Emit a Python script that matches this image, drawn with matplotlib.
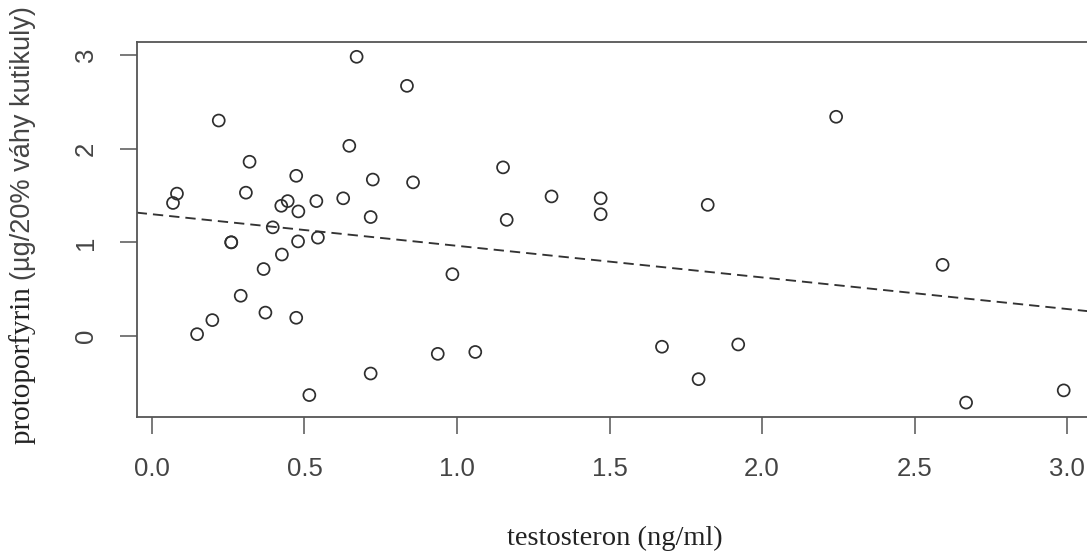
import numpy as np
import matplotlib
matplotlib.use("Agg")
import matplotlib.pyplot as plt

# testosterone (ng/ml) vs protoporphyrin per sample
testosteron = [0.069, 0.082, 0.148, 0.198, 0.219, 0.26, 0.26, 0.291, 0.308, 0.32,
               0.366, 0.372, 0.396, 0.424, 0.426, 0.445, 0.473, 0.473, 0.479, 0.48,
               0.516, 0.539, 0.544, 0.627, 0.647, 0.671, 0.717, 0.717, 0.724, 0.836,
               0.856, 0.937, 0.985, 1.06, 1.151, 1.163, 1.31, 1.471, 1.471, 1.672,
               1.792, 1.822, 1.922, 2.243, 2.592, 2.669, 2.989]
protoporfyrin = [1.42, 1.52, 0.02, 0.17, 2.30, 1.00, 1.00, 0.43, 1.53, 1.86,
                 0.715, 0.25, 1.16, 1.39, 0.87, 1.44, 1.71, 0.195, 1.01, 1.33,
                 -0.63, 1.44, 1.05, 1.47, 2.03, 2.98, 1.27, -0.40, 1.67, 2.67,
                 1.64, -0.19, 0.66, -0.17, 1.80, 1.24, 1.49, 1.47, 1.30, -0.114,
                 -0.46, 1.40, -0.09, 2.34, 0.76, -0.71, -0.58]

# regression line end points
fit_x = [-0.05, 3.12]
fit_y = [1.317, 0.248]

x_ticks = [0.0, 0.5, 1.0, 1.5, 2.0, 2.5, 3.0]
x_tick_labels = ["0.0", "0.5", "1.0", "1.5", "2.0", "2.5", "3.0"]
y_ticks = [0, 1, 2, 3]
y_tick_labels = ["0", "1", "2", "3"]

W, H = 1087, 551
fig = plt.figure(figsize=(W / 100, H / 100), dpi=100)
fig.patch.set_facecolor("white")

# plot box runs past the right edge of the figure
ax = fig.add_axes([137 / W, 1 - 417 / H, (1100 - 137) / W, (417 - 42) / H])
ax.set_xlim(-0.049, 3.108)
ax.set_ylim(-0.864, 3.138)

ax.plot(fit_x, fit_y, color="#333333", lw=1.35, dashes=(5.5, 3.2), zorder=2)
ax.scatter(testosteron, protoporfyrin, s=74, facecolors="none",
           edgecolors="#2e2e2e", linewidths=1.25, zorder=3)

for s in ax.spines.values():
    s.set_color("#555555")
    s.set_linewidth(1.3)

ax.set_xticks(x_ticks)
ax.set_xticklabels(x_tick_labels, fontfamily="Liberation Sans", fontsize=18.5,
                   color="#444444")
ax.set_yticks(y_ticks)
ax.set_yticklabels(y_tick_labels, fontfamily="Liberation Sans", fontsize=18.5,
                   color="#444444", rotation=90, va="center")
ax.tick_params(axis="both", direction="out", length=12, width=1.1,
               color="#555555")
ax.tick_params(axis="x", pad=17)
ax.tick_params(axis="y", pad=16)

fig.text(615 / W, 1 - 538 / H, "testosteron (ng/ml)", family="Liberation Serif",
         fontsize=20.5, color="#222222", ha="center", va="center")

# y label: serif word followed by a sans-serif unit part
t1 = fig.text(23 / W, 1 - 444 / H, "protoporfyrin ", family="Liberation Serif",
              fontsize=21, color="#222222", rotation=90, rotation_mode="anchor",
              ha="left", va="center")
fig.canvas.draw()
bb = t1.get_window_extent(fig.canvas.get_renderer())
fig.text(23 / W, bb.y1 / H, "(\u00b5g/20% v\u00e1hy kutikuly)",
         family="Liberation Sans", fontsize=19.5, color="#444444", rotation=90,
         rotation_mode="anchor", ha="left", va="center")

fig.savefig("out.png", dpi=100, facecolor="white")
